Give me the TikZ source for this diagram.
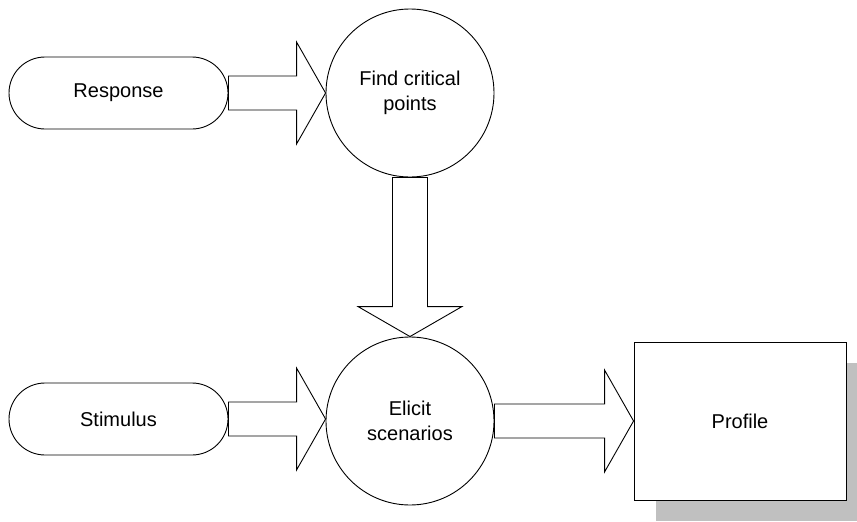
\documentclass[tikz,border=0pt]{standalone}
\usepackage{fontspec}
\setmainfont{Liberation Sans}
\usetikzlibrary{shapes.misc,shadows,calc}
\definecolor{shade}{RGB}{192,192,192}
\tikzset{
  base/.style={draw=black, line width=0.9pt, fill=white,
    font=\fontsize{20pt}{25pt}\selectfont, align=center, inner sep=0pt},
  terminal/.style={base, rounded rectangle, minimum width=219pt, minimum height=72pt},
  process/.style={base, circle, minimum size=168pt},
  store/.style={base, rectangle, minimum width=212pt, minimum height=158pt,
    drop shadow={shadow xshift=22pt, shadow yshift=-21pt, fill=shade, opacity=1}},
  blockarrow/.style={draw=black, line width=0.9pt, fill=white, line join=miter},
}
% wide hollow arrow running right from #1 to its tip at #2
\newcommand\rightblock[2]{%
  \path[blockarrow] let \p1=(#1), \p2=(#2) in
    (\x1,\y1+17pt) -- (\x2-29pt,\y1+17pt) -- (\x2-29pt,\y1+51pt) -- (\x2,\y1)
    -- (\x2-29pt,\y1-51pt) -- (\x2-29pt,\y1-17pt) -- (\x1,\y1-17pt) -- cycle;}
% wide hollow arrow running down from #1 to its tip at #2
\newcommand\downblock[2]{%
  \path[blockarrow] let \p1=(#1), \p2=(#2) in
    (\x1-17.5pt,\y1) -- (\x1-17.5pt,\y2+30pt) -- (\x1-52pt,\y2+30pt) -- (\x1,\y2)
    -- (\x1+52pt,\y2+30pt) -- (\x1+17.5pt,\y2+30pt) -- (\x1+17.5pt,\y1) -- cycle;}
\begin{document}
\begin{tikzpicture}[x=1pt,y=-1pt]
  \useasboundingbox (0,0) rectangle (857,522);
  \node[terminal] (resp) at (118.5,93) {Response};
  \node[terminal] (stim) at (118.5,419) {Stimulus};
  \node[process] (find) at (410,93) {Find critical\\points};
  \node[process] (elicit) at (410,421) {Elicit\\scenarios};
  \node[store] (prof) at (740,421) {Profile};

  \rightblock{resp.east}{find.west}
  \rightblock{stim.east}{elicit.west}
  \downblock{find.south}{elicit.north}
  \rightblock{elicit.east}{prof.west}
\end{tikzpicture}
\end{document}
